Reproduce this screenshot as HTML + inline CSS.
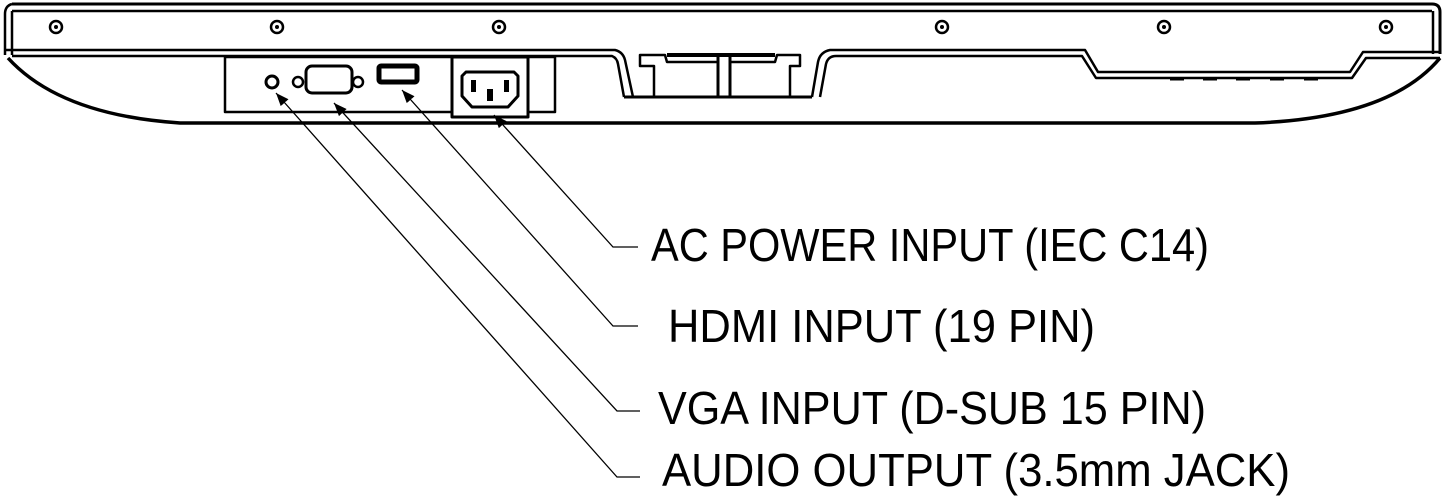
<!DOCTYPE html>
<html><head><meta charset="utf-8"><style>
html,body{margin:0;padding:0;background:#fff;}
svg{display:block}
text{font-family:"Liberation Sans",sans-serif;font-size:46px;fill:#000;}
</style></head><body>
<svg width="1445" height="498" viewBox="0 0 1445 498" xmlns="http://www.w3.org/2000/svg">
<defs><marker id="ar" viewBox="0 0 10 10" refX="10" refY="5" markerWidth="10" markerHeight="10" orient="auto-start-reverse"><path d="M0,1 L10,5 L0,9 z" fill="#000"/></marker></defs>
<g fill="none" stroke="#000" stroke-width="2.5" stroke-linejoin="round">
<path d="M12,4 L1432,4 Q1440,4 1440,12 L1440,54" stroke-width="3"/>
<path d="M12,11 L1432,11" />
<path d="M12,4 Q5,6 5,14 L5,55 M12,11 L12,55" />
<path d="M1433,11 L1433,54"/>
<path d="M5,50 L615,50 Q623,52 625,60 L633,97" />
<path d="M12,56 L612,56 Q617,58 618,64 L624,97" />
<path d="M624,97 L812,97" stroke-width="3"/>
<path d="M654,97 L654,66 L640,66 L640,55 L665,55 L667,62 L718,62 M730,62 L775,62 L777,55 L800,55 L800,66 L790,66 L790,97"/>
<path d="M667,55 L775,55" stroke-width="4"/>
<path d="M718,55 L718,97 M730,55 L730,97" stroke-width="3"/>
<path d="M812,97 L818,62 Q820,52 830,50 L1085,50 L1098,72 L1350,72 L1363,52 L1440,52"/>
<path d="M820,97 L826,64 Q828,56 836,56 L1082,56 L1096,78 L1352,78 L1366,58 L1440,58"/>
<g stroke-width="3"><path d="M1170,79 L1184,79 M1203,79 L1217,79 M1236,79 L1250,79 M1270,79 L1284,79 M1304,79 L1318,79"/></g>
<path d="M8,58 Q60,115 180,123 L1255,123 Q1390,118 1440,58" stroke-width="3.5"/>
<g stroke-width="2.5"><circle cx="56" cy="27" r="6"/><circle cx="277" cy="27" r="6"/><circle cx="499" cy="27" r="6"/><circle cx="942" cy="27" r="6"/><circle cx="1164" cy="27" r="6"/><circle cx="1386" cy="27" r="6"/></g>
<g fill="#000" stroke="none"><circle cx="56" cy="27" r="2"/><circle cx="277" cy="27" r="2"/><circle cx="499" cy="27" r="2"/><circle cx="942" cy="27" r="2"/><circle cx="1164" cy="27" r="2"/><circle cx="1386" cy="27" r="2"/></g>
<rect x="225" y="57" width="330" height="55"/>
<circle cx="272" cy="82" r="6" stroke-width="3"/>
<circle cx="298" cy="82" r="5"/><circle cx="358" cy="82" r="5"/>
<rect x="306" y="66" width="46" height="27" rx="6" stroke-width="3"/>
<rect x="379" y="66" width="38" height="16" rx="2" stroke-width="5"/>
<rect x="452" y="57" width="76" height="60" fill="#fff" stroke-width="3"/>
<path d="M466,72 L514,72 L518,76 L518,96 L508,107 L472,107 L462,96 L462,76 Z" stroke-width="3"/>
</g>
<g fill="#000"><rect x="471" y="80" width="5" height="12"/><rect x="504" y="80" width="5" height="12"/><rect x="487" y="89" width="6" height="12"/></g>
<g fill="none" stroke="#000" stroke-width="1.3">
<path d="M638,247 L613,247 L494,115" marker-end="url(#ar)"/>
<path d="M638,326 L613,326 L402,90" marker-end="url(#ar)"/>
<path d="M640,411 L617,411 L334,103" marker-end="url(#ar)"/>
<path d="M640,477 L617,477 L276,93" marker-end="url(#ar)"/>
</g>
<text x="651" y="261" textLength="558" lengthAdjust="spacingAndGlyphs">AC POWER INPUT (IEC C14)</text>
<text x="668" y="342" textLength="427" lengthAdjust="spacingAndGlyphs">HDMI INPUT (19 PIN)</text>
<text x="658" y="424" textLength="548" lengthAdjust="spacingAndGlyphs">VGA INPUT (D-SUB 15 PIN)</text>
<text x="662" y="486" textLength="628" lengthAdjust="spacingAndGlyphs">AUDIO OUTPUT (3.5mm JACK)</text>
</svg>
</body></html>
